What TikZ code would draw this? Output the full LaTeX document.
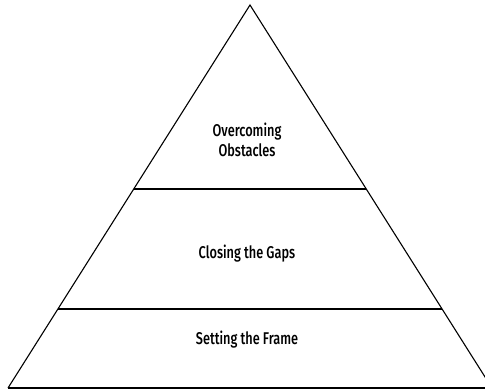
\documentclass[tikz,border=0pt]{standalone}
\usepackage{fontspec}
\setmainfont{Fira Sans}[FakeStretch=0.75,BoldFont={Fira Sans Medium}]
\begin{document}
\begin{tikzpicture}[x=1pt,y=-1pt,
  edge/.style={line width=1.1pt,black},
  band/.style={line width=2pt,black},
  label/.style={align=center,font=\bfseries\fontsize{17}{20}\selectfont,inner sep=0pt}]
  \useasboundingbox (0,0) rectangle (485,391);
  \begin{scope}
    \clip (0,0) rectangle (485,391);
    % corners of the pyramid
    \coordinate (apex) at (250,5);
    \coordinate (bl) at (8,388);
    \coordinate (br) at (492,388);
    % tier boundaries on the slanted sides
    \coordinate (l1) at (134,189);
    \coordinate (r1) at (366,189);
    \coordinate (l2) at (58,309);
    \coordinate (r2) at (442,309);
    \draw[edge,line join=miter] (bl) -- (apex) -- (br);
    \draw[band] (bl) -- (br);
    \draw[band] (l1) -- (r1);
    \draw[band] (l2) -- (r2);
  \end{scope}
  \node[label] (top) at (247,140) {Overcoming\\Obstacles};
  \node[label] (mid) at (247,254) {Closing the Gaps};
  \node[label] (bot) at (247,340) {Setting the Frame};
\end{tikzpicture}
\end{document}
